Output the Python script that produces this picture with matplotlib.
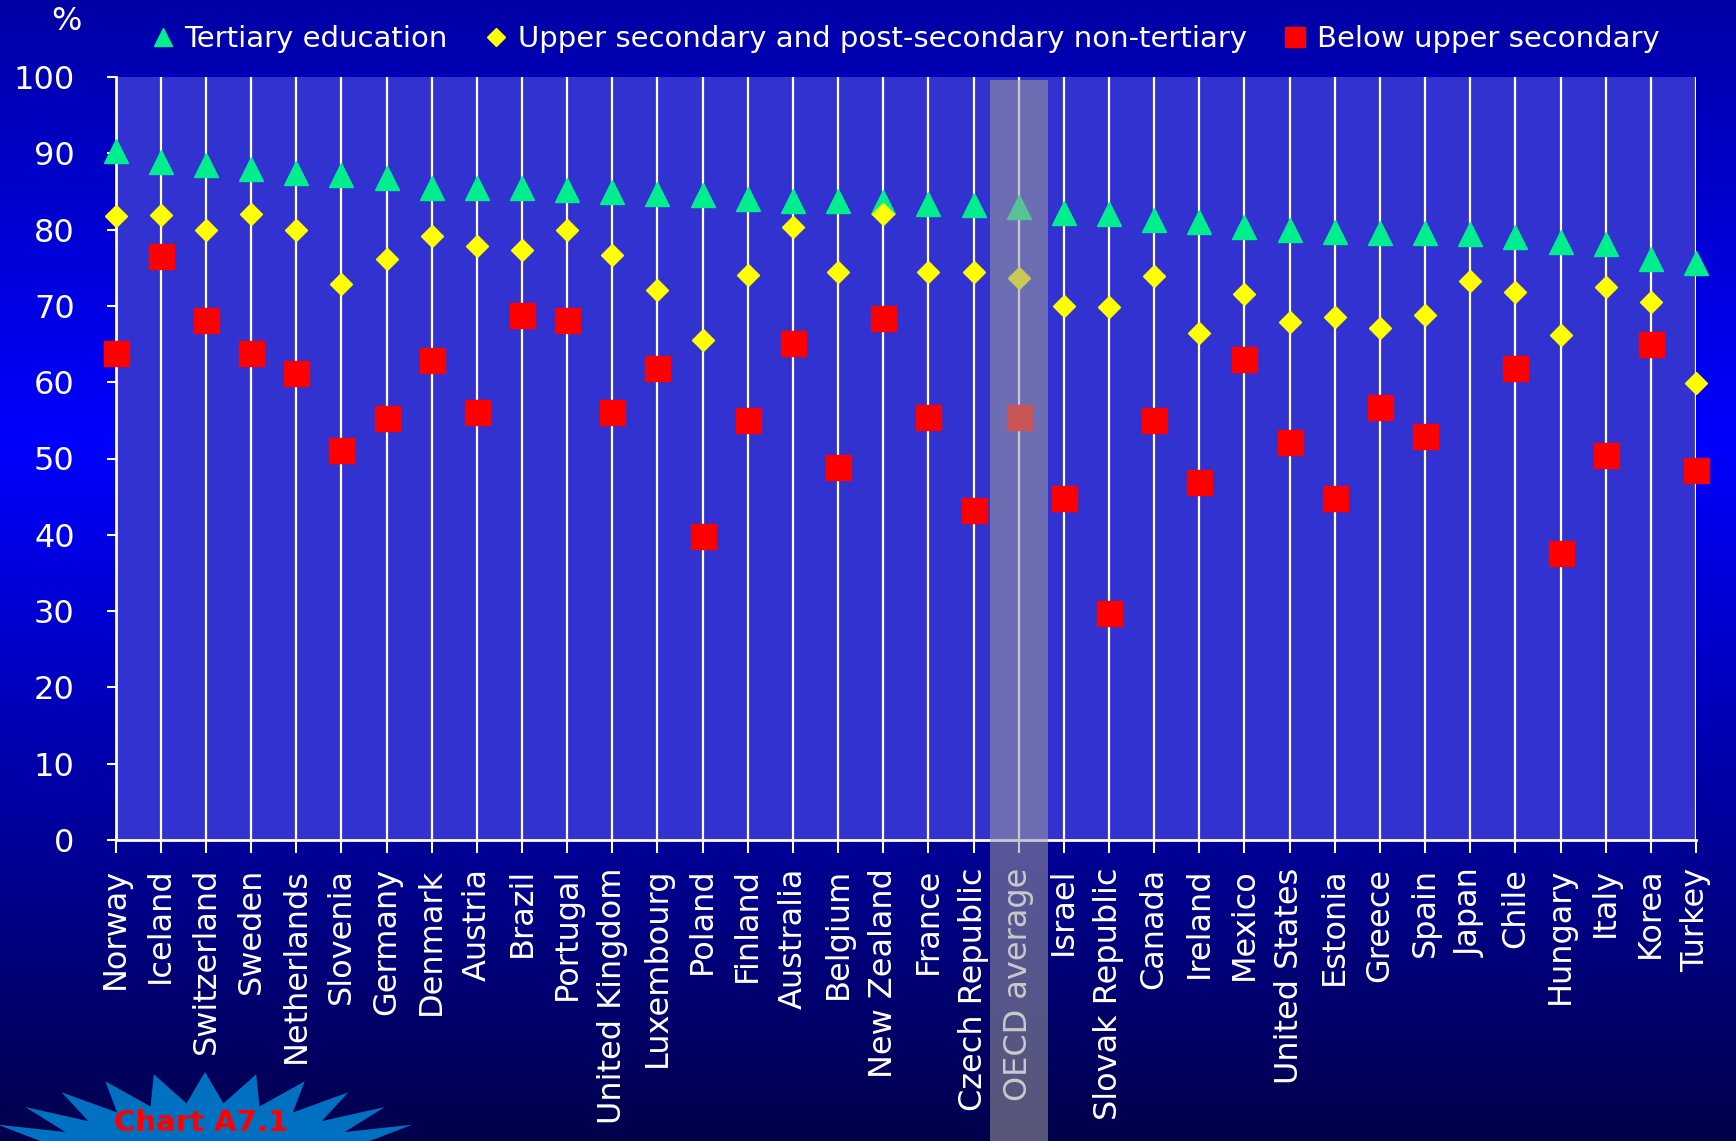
import numpy as np
import matplotlib.pyplot as plt
from matplotlib.patches import Polygon, Rectangle
import matplotlib.transforms as mtransforms

# Du lieu doc tu bieu do (%)
countries = ["Norway", "Iceland", "Switzerland", "Sweden", "Netherlands", "Slovenia",
             "Germany", "Denmark", "Austria", "Brazil", "Portugal", "United Kingdom",
             "Luxembourg", "Poland", "Finland", "Australia", "Belgium", "New Zealand",
             "France", "Czech Republic", "OECD average", "Israel", "Slovak Republic",
             "Canada", "Ireland", "Mexico", "United States", "Estonia", "Greece",
             "Spain", "Japan", "Chile", "Hungary", "Italy", "Korea", "Turkey"]

tertiary = [90.3, 88.9, 88.5, 88.0, 87.4, 87.1, 86.8, 85.5, 85.5, 85.4, 85.2, 84.9,
            84.7, 84.6, 84.0, 83.8, 83.8, 83.6, 83.4, 83.2, 83.0, 82.2, 82.1,
            81.2, 81.0, 80.3, 79.9, 79.7, 79.6, 79.5, 79.4, 79.0, 78.4, 78.1, 76.1, 75.6]

upper_sec = [81.8, 81.9, 80.0, 82.0, 80.0, 72.9, 76.2, 79.1, 77.9, 77.3, 79.9, 76.7,
             72.1, 65.5, 74.0, 80.4, 74.4, 82.0, 74.4, 74.4, 73.6, 70.0, 69.9,
             73.9, 66.4, 71.5, 67.9, 68.6, 67.1, 68.8, 73.3, 71.8, 66.2, 72.5, 70.5, 59.9]

below_upper = [63.8, 76.5, 68.2, 63.8, 61.2, 51.1, 55.3, 62.9, 56.1, 68.8, 68.1, 56.1,
               61.8, 39.9, 55.0, 65.1, 48.9, 68.4, 55.4, 43.2, 55.4, 44.8, 29.7,
               55.1, 46.9, 63.0, 52.1, 44.8, 56.7, 52.9, np.nan, 61.8, 37.6, 50.4, 65.0, 48.5]

legend_labels = ["Tertiary education",
                 "Upper secondary and post-secondary non-tertiary",
                 "Below upper secondary"]

W, H = 1736, 1141
fig = plt.figure(figsize=(W / 100, H / 100), dpi=100)

# Nen gradient xanh
bg = fig.add_axes([0, 0, 1, 1], zorder=-10)
yy = np.linspace(0, H, 400)
blue = np.interp(yy, [0, 440, H], [165, 255, 75]) / 255
grad = np.zeros((400, 1, 3))
grad[:, 0, 2] = blue
bg.imshow(grad, aspect='auto', extent=[0, 1, 1, 0])
bg.set_xlim(0, 1)
bg.set_ylim(1, 0)
bg.axis('off')

# Khung bieu do chinh
left, right, top, bottom = 115.6, 1696, 77, 840
ax = fig.add_axes([left / W, 1 - bottom / H, (right - left) / W, (bottom - top) / H])
ax.set_facecolor('#3232d0')

x = np.arange(len(countries))
ax.plot(x, tertiary, linestyle='none', marker='^', markersize=17,
        color='#00ee8e', zorder=4, clip_on=False, label=legend_labels[0])
ax.plot(x, upper_sec, linestyle='none', marker='D', markersize=11.5,
        color='#ffff00', zorder=4, clip_on=False, label=legend_labels[1])
ax.plot(x, below_upper, linestyle='none', marker='s', markersize=18,
        color='#ff0000', zorder=3, clip_on=False, label=legend_labels[2])

ax.set_xlim(0, len(countries) - 1)
ax.set_ylim(0, 100)
ax.set_yticks(np.arange(0, 101, 10))
ax.set_xticks(x)
ax.set_xticklabels(countries, rotation=90, va='top', ha='center')
ax.grid(axis='x', color='white', linewidth=1.6)
ax.set_axisbelow(True)

for s in ['top', 'right']:
    ax.spines[s].set_visible(False)
for s in ['left', 'bottom']:
    ax.spines[s].set_color('white')
    ax.spines[s].set_linewidth(2)
ax.tick_params(axis='y', colors='white', labelsize=23, length=6.5, width=1.5, pad=23)
ax.tick_params(axis='x', colors='white', labelsize=23, length=9, width=1.5, pad=11)

# Dai OECD average
oecd = countries.index("OECD average")
trans = mtransforms.blended_transform_factory(ax.transData, ax.transAxes)
ax.add_patch(Rectangle((oecd - 0.64, -0.45), 1.28, 1.446, transform=trans,
                       facecolor=(0.62, 0.62, 0.62), alpha=0.55, edgecolor='none',
                       clip_on=False, zorder=6))

# Chu giai
fig.legend(loc='center', bbox_to_anchor=(0.522, 1 - 39 / H), ncol=3, frameon=False,
           fontsize=21, labelcolor='white', handlelength=0.7, handletextpad=0.4,
           columnspacing=1.3, markerscale=0.8)
fig.text(66 / W, 1 - 22 / H, '%', color='white', fontsize=23, ha='center', va='center')

# Nhan "Chart A7.1"
cx, cy = 205, 1165
n = 28
ang = np.linspace(0, 2 * np.pi, 2 * n, endpoint=False)
rx = np.where(np.arange(2 * n) % 2 == 0, 230, 165)
ry = np.where(np.arange(2 * n) % 2 == 0, 93, 62)
pts = np.column_stack([(cx + rx * np.sin(ang)) / W, 1 - (cy - ry * np.cos(ang)) / H])
fig.patches.append(Polygon(pts, closed=True, transform=fig.transFigure,
                           facecolor='#0070c0', edgecolor='none', zorder=1))
fig.text(201 / W, 1 - 1137 / H, 'Chart A7.1', color='#ff0000', fontsize=21,
         fontweight='bold', ha='center', va='bottom', zorder=2)

fig.savefig('out.png', dpi=100)
